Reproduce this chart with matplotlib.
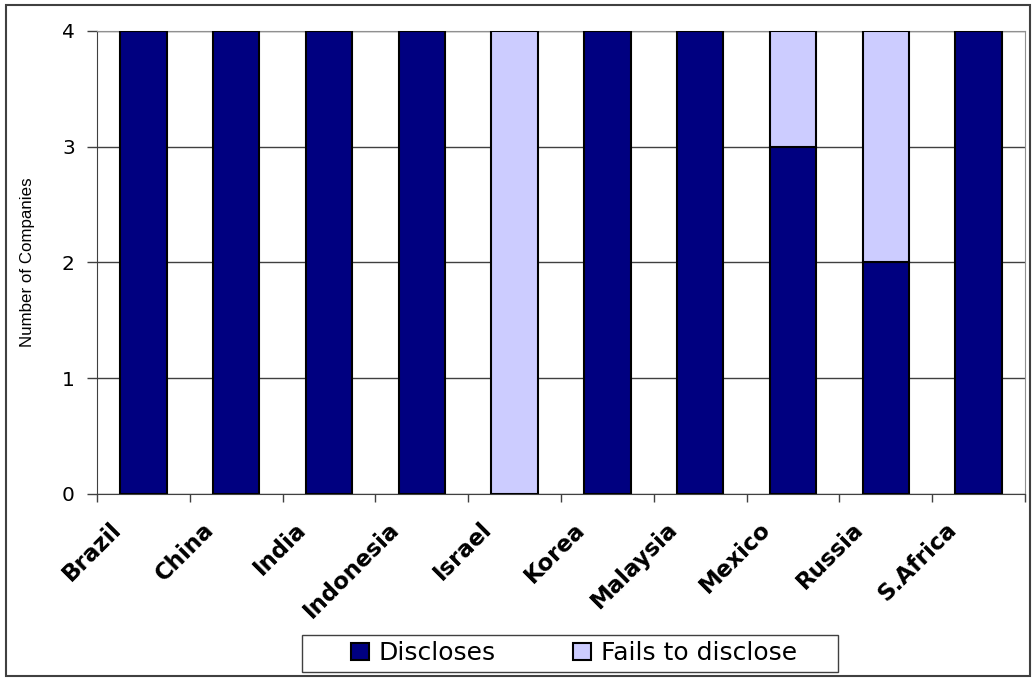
import numpy as np
import matplotlib.pyplot as plt
import matplotlib.transforms as mtransforms
from matplotlib.patches import Rectangle

countries = ['Brazil', 'China', 'India', 'Indonesia', 'Israel', 'Korea',
             'Malaysia', 'Mexico', 'Russia', 'S.Africa']
discloses = [4, 4, 4, 4, 0, 4, 4, 3, 2, 4]
fails = [0, 0, 0, 0, 4, 0, 0, 1, 2, 0]

fig = plt.figure(figsize=(10.36, 6.81), dpi=100)
ax = fig.add_axes([0.0936, 0.2746, 0.8958, 0.68])

# outer chart frame
fig.patches.append(Rectangle((6 / 1036, 5 / 681), 1024 / 1036, 671 / 681,
                             transform=fig.transFigure, fill=False,
                             edgecolor='#404040', linewidth=1.5))

x = np.arange(len(countries))
ax.bar(x, discloses, 0.5, color='#000080', edgecolor='black', linewidth=1.5,
       label='Discloses', zorder=3)
ax.bar(x, fails, 0.5, bottom=discloses, color='#CCCCFF', edgecolor='black',
       linewidth=1.5, label='Fails to disclose', zorder=3)

ax.set_xlim(-0.5, len(countries) - 0.5)
ax.set_ylim(0, 4)
ax.set_yticks(range(5))
ax.tick_params(axis='y', labelsize=14.5, length=7, direction='out', width=1,
               color='#404040', pad=9)
ax.yaxis.grid(True, color='#404040', linewidth=1, zorder=0)

# ticks between categories, labels at centers
ax.set_xticks(np.arange(-0.5, len(countries)), minor=True)
ax.set_xticks(x)
ax.set_xticklabels(countries, rotation=45, ha='right', va='center',
                   rotation_mode='anchor', fontweight='bold', fontsize=16.5)
ax.tick_params(axis='x', which='major', length=0, pad=23)
ax.tick_params(axis='x', which='minor', length=6, width=1, color='#404040')
shift = mtransforms.ScaledTranslation(-26 / 100, 0, fig.dpi_scale_trans)
for lab in ax.get_xticklabels():
    lab.set_transform(lab.get_transform() + shift)

ax.set_ylabel('Number of Companies', fontsize=12.2, family='Liberation Sans')
ax.yaxis.set_label_coords(-0.067, 0.5)

for s in ['left', 'bottom']:
    ax.spines[s].set_color('#404040')
for s in ['top', 'right']:
    ax.spines[s].set_color('#909090')

# legend box drawn separately so it can be wider than its entries
fig.patches.append(Rectangle((302 / 1036, 1 - 672 / 681), 536 / 1036, 37 / 681,
                             transform=fig.transFigure, fill=False,
                             edgecolor='#404040', linewidth=1))
leg = fig.legend(loc='center', bbox_to_anchor=(574 / 1036, 1 - 653 / 681),
                 ncol=2, fontsize=18, frameon=False,
                 handlelength=0.7, handleheight=0.7, columnspacing=3.1,
                 handletextpad=0.4, borderpad=0.2)

fig.savefig('out.png', dpi=100)
